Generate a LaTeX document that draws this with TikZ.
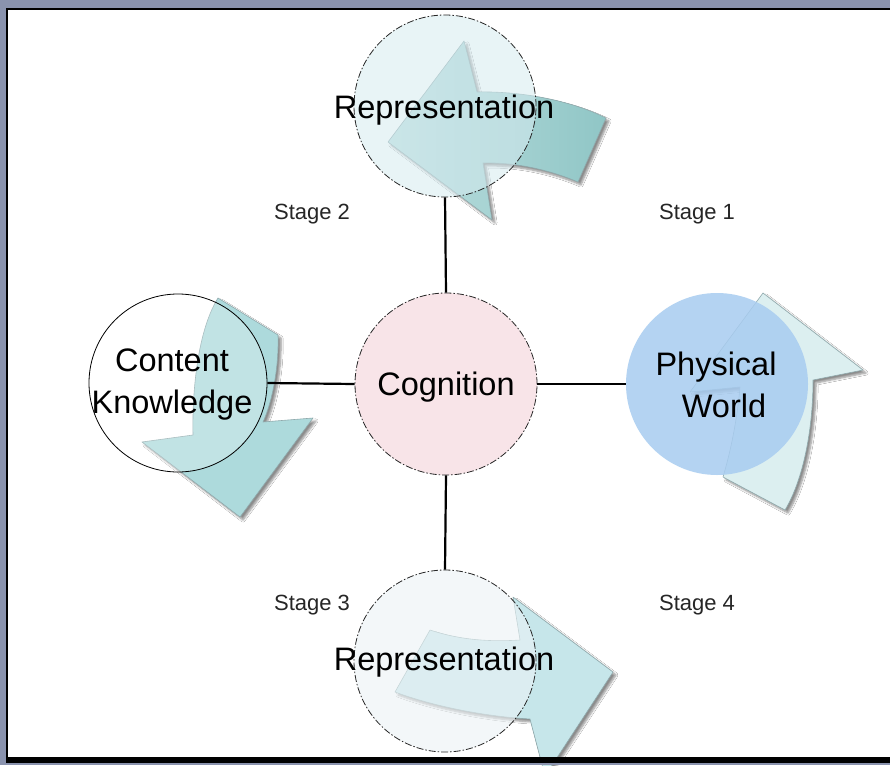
\documentclass[tikz,border=0pt]{standalone}
\usepackage{fontspec}
\setmainfont{Liberation Sans}
\usetikzlibrary{shadows.blur}

\definecolor{framegray}{HTML}{8A93AE}
\definecolor{arrowedge}{HTML}{8FA9AC}
\definecolor{tealdark}{HTML}{90C6C6}
\definecolor{teallight}{HTML}{BCDFDF}
\definecolor{tealmid}{HTML}{ADDADC}
\definecolor{tealpale}{HTML}{DCEFF0}
\definecolor{tealsoft}{HTML}{C6E6EA}
\definecolor{repfill}{HTML}{D6EBF0}
\definecolor{repfilltwo}{HTML}{ECF3F6}
\definecolor{cogfill}{HTML}{F8E4E8}
\definecolor{worldblue}{HTML}{A8CCF0}

\begin{document}
\begin{tikzpicture}[x=1pt, y=-1pt,
  bigarrow/.style={draw=arrowedge, line width=0.6pt, line join=round,
    blur shadow={shadow xshift=3pt, shadow yshift=-3pt, shadow opacity=45, shadow blur steps=6}},
  ring/.style={circle, inner sep=0pt, minimum size=182pt},
  dashring/.style={ring, draw=black!85, line width=0.8pt,
    dash pattern=on 7pt off 2pt on 1.5pt off 2pt},
  link/.style={line width=2.2pt, black},
  bigtext/.style={font=\fontsize{32.5}{42}\selectfont, anchor=base, inner sep=0pt},
  stagetext/.style={font=\fontsize{22}{26}\selectfont, anchor=base, inner sep=0pt, text=black!85}
]
\useasboundingbox (0,0) rectangle (890,765);
\clip (0,0) rectangle (890,765);
\fill[white] (0,0) rectangle (890,765);

% curved block arrows (stage cycle, counter-clockwise)
\path[bigarrow, left color=teallight, right color=tealdark]
  (606,118) .. controls (570,100) and (520,91) .. (477,92)
  -- (464,41) -- (388,142) -- (492,220) -- (483,163)
  .. controls (515,162) and (550,170) .. (578,182) -- cycle;

\path[bigarrow, fill=tealmid]
  (218,298) -- (278,335) .. controls (279,365) and (273,400) .. (263,422)
  -- (313,418) -- (240,517) -- (142,442) -- (193,435)
  .. controls (192,390) and (198,330) .. (218,298) -- cycle;

\path[bigarrow, fill=tealpale]
  (723,477) .. controls (731,450) and (737,420) .. (740,387)
  -- (690,392) -- (763,293) -- (863,370) -- (813,380)
  .. controls (813,430) and (803,480) .. (785,510) -- cycle;

\path[bigarrow, fill=tealsoft]
  (430,630) .. controls (460,640) and (490,642) .. (520,640)
  -- (513,597) -- (613,672) -- (545,776) -- (530,719)
  .. controls (480,716) and (430,705) .. (395,692) -- cycle;

% circles
\node[dashring, fill=repfill, fill opacity=0.55] (reptop) at (445,106) {};
\node[dashring, fill=cogfill] (cog) at (446,384) {};
\node[ring, minimum size=178pt, draw=black, line width=0.8pt, fill=white, fill opacity=0.25] (content) at (178,383) {};
\node[ring, fill=worldblue, fill opacity=0.85] (world) at (717,384) {};
\node[dashring, fill=repfilltwo, fill opacity=0.6] (repbot) at (445,661) {};

% spokes
\draw[link] (reptop.south) -- (cog.north);
\draw[link] (content.east) -- (cog.west);
\draw[link] (cog.east) -- (world.west);
\draw[link] (cog.south) -- (repbot.north);

% labels
\node[bigtext] (reptoptext) at (444,118) {Representation};
\node[bigtext] (cogtext) at (446,395) {Cognition};
\node[bigtext, align=center, anchor=center] (contenttext) at (172,385) {Content\\Knowledge};
\node[bigtext, align=center, anchor=center] (worldtext) at (716,385) {Physical\\\hspace*{16pt}World};
\node[bigtext] (repbottext) at (444,670) {Representation};

\node[stagetext] (s1) at (697,219) {Stage 1};
\node[stagetext] (s2) at (312,219) {Stage 2};
\node[stagetext] (s3) at (312,610) {Stage 3};
\node[stagetext] (s4) at (697,610) {Stage 4};

% window frame
\fill[framegray] (0,0) rectangle (890,8);
\fill[framegray] (0,0) rectangle (6,765);
\fill[framegray] (0,763) rectangle (890,765);
\fill[black] (6,8) rectangle (890,10);
\fill[black] (6,8) rectangle (8,763);
\fill[black] (6,757) rectangle (890,763);
\end{tikzpicture}
\end{document}
